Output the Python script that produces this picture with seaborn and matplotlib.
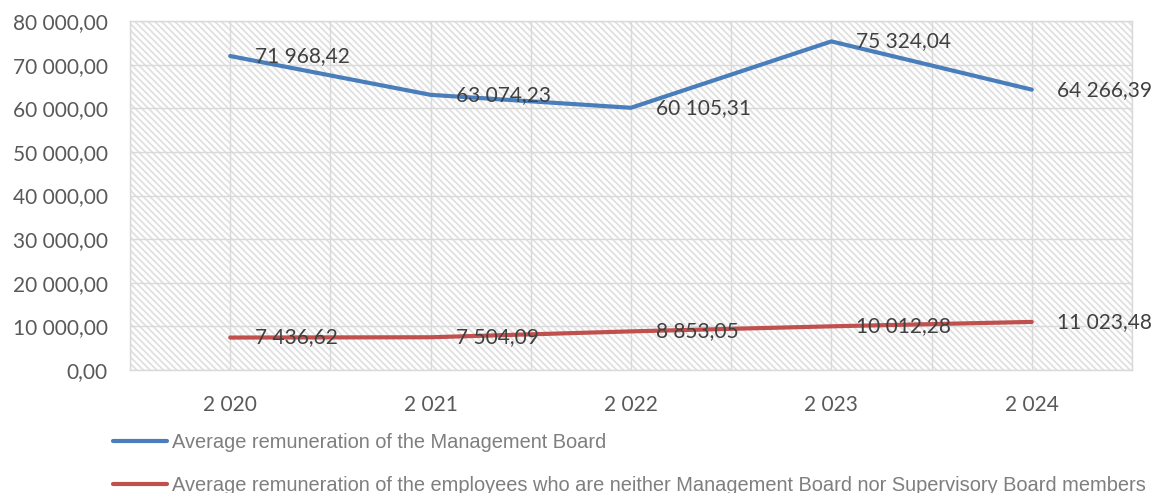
import matplotlib
matplotlib.use("Agg")
import matplotlib.pyplot as plt
import seaborn as sns
import pandas as pd
import numpy as np
from matplotlib.ticker import FuncFormatter, MultipleLocator
from matplotlib.lines import Line2D

years = ["2 020", "2 021", "2 022", "2 023", "2 024"]
board = [71968.42, 63074.23, 60105.31, 75324.04, 64266.39]
employees = [7436.62, 7504.09, 8853.05, 10012.28, 11023.48]
series_names = [
    "Average remuneration of the Management Board",
    "Average remuneration of the employees who are neither Management Board nor Supervisory Board members",
]
colors = ["#4a7ebb", "#c0504d"]

def fmt(v):
    s = f"{v:,.2f}"
    return s.replace(",", " ").replace(".", ",")

df = pd.DataFrame({
    "year": years * 2,
    "value": board + employees,
    "series": [series_names[0]] * 5 + [series_names[1]] * 5,
})

sns.set_style("white")
plt.rcParams["font.family"] = ["Lato", "DejaVu Sans"]
plt.rcParams["hatch.linewidth"] = 1.3

fig = plt.figure(figsize=(11.57, 4.93), dpi=100)
ax = fig.add_axes([130/1157, 1-370/493, (1132-130)/1157, (370-21)/493])

ax.patch.set_facecolor("white")
ax.patch.set_hatch("\\" * 5)
ax.patch.set_edgecolor("#e0e0e0")

sns.lineplot(data=df, x="year", y="value", hue="series", palette=colors,
             linewidth=3.0, ax=ax, legend=False, sort=False, zorder=3)

for vals in (board, employees):
    for i, v in enumerate(vals):
        ax.annotate(fmt(v), (i, v), xytext=(18, 0), textcoords="offset points",
                    ha="left", va="center", fontsize=15, color="#404040", zorder=4)

ax.set_xlim(-0.5, 4.5)
ax.set_ylim(0, 80000)
ax.yaxis.set_major_locator(MultipleLocator(10000))
ax.yaxis.set_major_formatter(FuncFormatter(lambda v, p: fmt(v)))
ax.set_xticks(range(5))
ax.set_xticklabels(years)
ax.set_xticks(np.arange(-0.5, 4.6, 0.5), minor=True)
ax.grid(True, which="both", color="#d9d9d9", linewidth=1.0, zorder=1)
ax.set_axisbelow(True)
ax.tick_params(axis="both", which="both", length=0, labelsize=15, labelcolor="#595959")
ax.tick_params(axis="x", pad=18)
ax.tick_params(axis="y", pad=16)
ax.set_xlabel("")
ax.set_ylabel("")
for s in ax.spines.values():
    s.set_color("#d9d9d9")
    s.set_linewidth(1.0)

handles = [Line2D([0], [0], color=c, linewidth=3.0) for c in colors]
leg = fig.legend(handles, series_names, loc="upper left",
                 bbox_to_anchor=(113/1157, 1-433/493), frameon=False,
                 borderpad=0, borderaxespad=0,
                 handlelength=2.7, handletextpad=0.25, labelspacing=1.2,
                 prop={"family": "Liberation Sans", "size": 14.4})
for t in leg.get_texts():
    t.set_color("#7f7f7f")

fig.savefig("out.png", dpi=100)
